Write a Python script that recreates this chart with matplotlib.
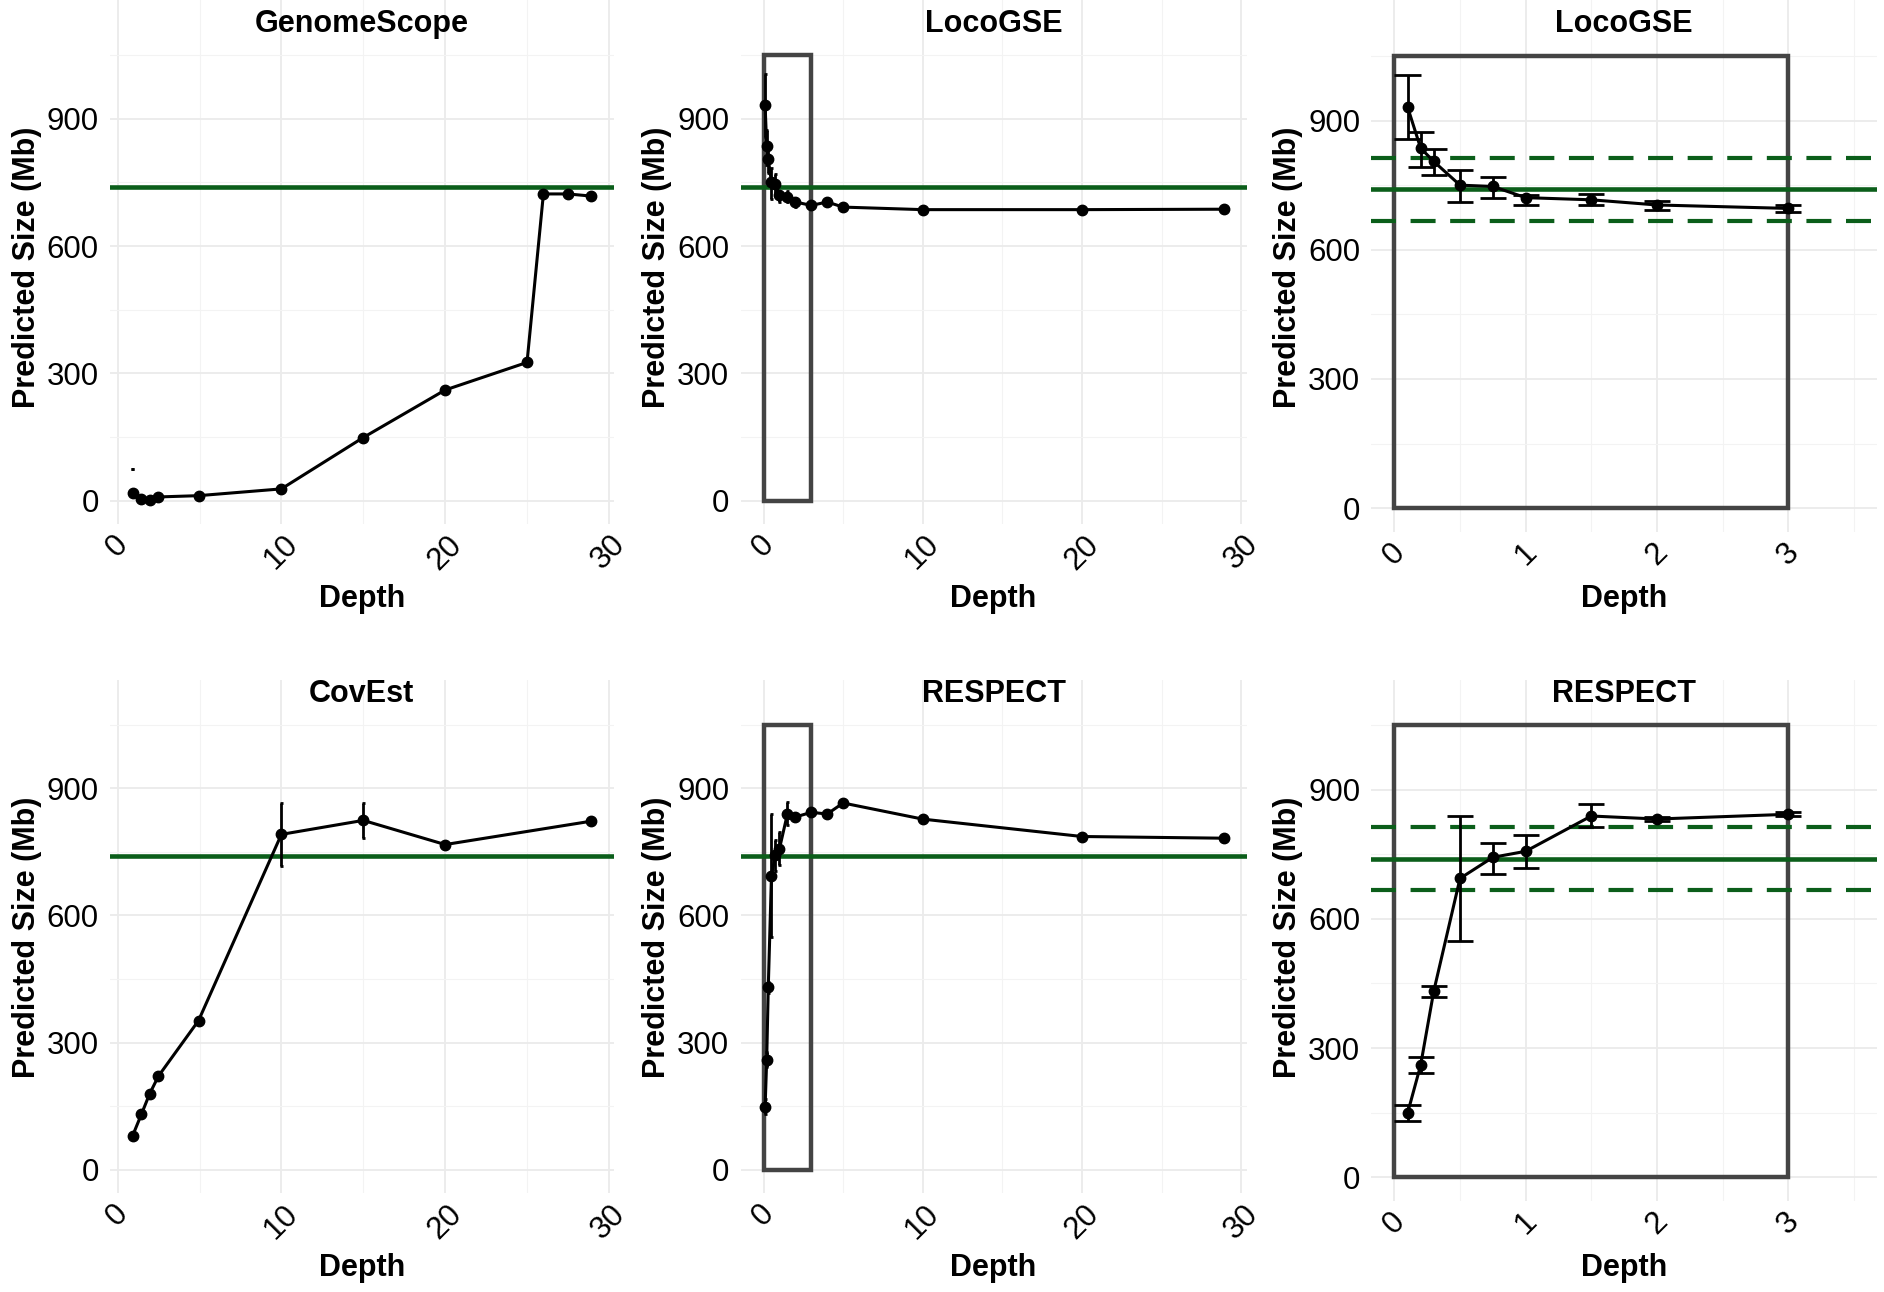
import matplotlib
matplotlib.use('Agg')
import matplotlib.pyplot as plt
from matplotlib.patches import Rectangle
import numpy as np

plt.rcParams['font.family'] = ['Liberation Sans', 'DejaVu Sans']

W, H = 1884, 1292
TRUE_SIZE = 740          # tamaño real del genoma (Mb)
BAND = 0.10              # banda de +/- 10 %

# GenomeScope
gs_depth = [0.92, 1.45, 1.95, 2.49, 4.94, 10, 15, 20, 25, 26, 27.5, 28.9]
gs_size = [19, 5, 2, 9, 12, 28, 149, 261, 326, 723, 723, 718]
gs_lo = [74, 5, 2, 9, 12, 28, 149, 261, 326, 723, 723, 718]
gs_hi = [76, 5, 2, 9, 12, 28, 149, 261, 326, 723, 723, 718]

# CovEst
ce_depth = [0.92, 1.45, 1.95, 2.49, 4.94, 10, 15, 20, 28.9]
ce_size = [81, 131, 179, 221, 352, 791, 824, 767, 822]
ce_lo = [81, 131, 179, 221, 352, 716, 782, 767, 822]
ce_hi = [81, 131, 179, 221, 352, 865, 865, 767, 822]

# LocoGSE
lg_depth = [0.1, 0.2, 0.3, 0.5, 0.75, 1, 1.5, 2, 3, 4, 5, 10, 20, 28.9]
lg_size = [932, 836, 805, 750, 747, 721, 716, 704, 696, 704, 692, 686, 686, 687]
lg_lo = [857, 792, 773, 712, 721, 703, 704, 693, 687, 704, 692, 686, 686, 687]
lg_hi = [1006, 874, 833, 785, 769, 728, 730, 714, 704, 704, 692, 686, 686, 687]

# RESPECT
rs_depth = [0.1, 0.2, 0.3, 0.5, 0.75, 1, 1.5, 2, 3, 4, 5, 10, 20, 28.9]
rs_size = [148, 260, 432, 694, 743, 757, 839, 832, 843, 839, 865, 827, 786, 782]
rs_lo = [131, 242, 418, 549, 705, 719, 813, 827, 838, 839, 865, 827, 786, 782]
rs_hi = [167, 279, 443, 839, 777, 796, 867, 836, 848, 839, 865, 827, 786, 782]

ZOOM_MAX = 3             # recuadro de zoom (0-3 x, 0-1050 y)
ZOOM_TOP = 1050


def expandir(lo, hi, frac=0.05):
    d = (hi - lo) * frac
    return lo - d, hi + d


def crear_panel(fig, caja, titulo, xlim, ylim, xmaj, xmin, base_titulo,
                base_xlabel, centro_ylabel):
    left, top, right, bottom = caja
    ax = fig.add_axes([left / W, 1 - bottom / H, (right - left) / W, (bottom - top) / H])
    alto = bottom - top
    ancho = right - left
    ax.set_xlim(*xlim)
    ax.set_ylim(*ylim)
    ax.set_xticks(xmaj)
    ax.set_xticks(xmin, minor=True)
    ax.set_yticks([0, 300, 600, 900])
    ax.set_yticks([150, 450, 750, 1050], minor=True)
    ax.set_xticklabels([f"{t:g}" for t in xmaj])
    ax.tick_params(which='both', length=0, labelsize=22.5, colors='black')
    ax.tick_params(axis='x', labelrotation=45, pad=4)
    ax.tick_params(axis='y', pad=8)
    ax.grid(which='major', color='#EBEBEB', lw=1.3)
    ax.grid(which='minor', color='#F3F3F3', lw=0.8)
    ax.set_axisbelow(True)
    for s in ax.spines.values():
        s.set_visible(False)
    ax.set_title(titulo, fontsize=22, fontweight='bold', pad=0,
                 y=(bottom - base_titulo) / alto, va='baseline')
    ax.set_xlabel('Depth', fontsize=22, fontweight='bold', va='baseline')
    ax.xaxis.set_label_coords(0.5, (bottom - base_xlabel) / alto)
    ax.set_ylabel('Predicted Size (Mb)', fontsize=22, fontweight='bold', va='baseline')
    ax.yaxis.set_label_coords(-75 / ancho, (bottom - centro_ylabel) / alto)
    return ax


def dibujar_serie(ax, x, y, lo, hi, xmax=None):
    x = np.asarray(x, float)
    y = np.asarray(y, float)
    lo = np.asarray(lo, float)
    hi = np.asarray(hi, float)
    if xmax is not None:
        m = x <= xmax
        x, y, lo, hi = x[m], y[m], lo[m], hi[m]
    ax.vlines(x, lo, hi, color='black', lw=2.0, zorder=4)
    ax.hlines(lo, x - 0.1, x + 0.1, color='black', lw=2.0, zorder=4)
    ax.hlines(hi, x - 0.1, x + 0.1, color='black', lw=2.0, zorder=4)
    ax.plot(x, y, color='black', lw=2.2, zorder=5)
    ax.plot(x, y, 'o', color='black', ms=7.5, zorder=6)


def lineas_verdad(ax, banda=False):
    ax.axhline(TRUE_SIZE, color='#0B5E1A', lw=3.3, zorder=3)
    if banda:
        for f in (1 + BAND, 1 - BAND):
            ax.axhline(TRUE_SIZE * f, color='#0B5E1A', lw=3.0,
                       ls=(0, (6, 3.5)), zorder=3)


def recuadro(ax):
    ax.add_patch(Rectangle((0, 0), ZOOM_MAX, ZOOM_TOP, fill=False,
                           edgecolor='#444444', lw=3.2, zorder=2))


fig = plt.figure(figsize=(W / 100, H / 100), dpi=100)

cols = [(109.8, 613.8), (740.5, 1246.7), (1371.4, 1876.8)]
filas = [
    dict(top=0, bottom=524.1, bottom_z=531.8, titulo=31.7, xlabel=607.3, ylab=267,
         ylim=(-55, 1180)),
    dict(top=680, bottom=1193.2, bottom_z=1200.8, titulo=701.7, xlabel=1276.4, ylab=937,
         ylim=(-55, 1155)),
]

xl_full = expandir(min(gs_depth), max(gs_depth))
xl_loco = expandir(0, max(lg_depth))
xl_zoom = expandir(0, 3.5)
ticks30 = [0, 10, 20, 30]
minor30 = [5, 15, 25]
ticks3 = [0, 1, 2, 3]
minor3 = [0.5, 1.5, 2.5, 3.5]

paneles = [
    ('GenomeScope', gs_depth, gs_size, gs_lo, gs_hi, 'full'),
    ('LocoGSE', lg_depth, lg_size, lg_lo, lg_hi, 'box'),
    ('LocoGSE', lg_depth, lg_size, lg_lo, lg_hi, 'zoom'),
    ('CovEst', ce_depth, ce_size, ce_lo, ce_hi, 'full'),
    ('RESPECT', rs_depth, rs_size, rs_lo, rs_hi, 'box'),
    ('RESPECT', rs_depth, rs_size, rs_lo, rs_hi, 'zoom'),
]

for i, (tit, x, y, lo, hi, tipo) in enumerate(paneles):
    fila = filas[i // 3]
    left, right = cols[i % 3]
    bottom = fila['bottom_z'] if tipo == 'zoom' else fila['bottom']
    top = fila['top']
    if tipo == 'full':
        xlim, xmaj, xmin = xl_full, ticks30, minor30
    elif tipo == 'box':
        xlim, xmaj, xmin = xl_loco, ticks30, minor30
    else:
        xlim, xmaj, xmin = xl_zoom, ticks3, minor3
    ax = crear_panel(fig, (left, top, right, bottom), tit, xlim, fila['ylim'],
                     xmaj, xmin, fila['titulo'], fila['xlabel'], fila['ylab'])
    lineas_verdad(ax, banda=(tipo == 'zoom'))
    if tipo in ('box', 'zoom'):
        recuadro(ax)
    if tipo == 'zoom':
        dibujar_serie(ax, x, y, lo, hi, xmax=ZOOM_MAX)
    else:
        dibujar_serie(ax, x, y, lo, hi)

fig.savefig('out.png', dpi=100)
